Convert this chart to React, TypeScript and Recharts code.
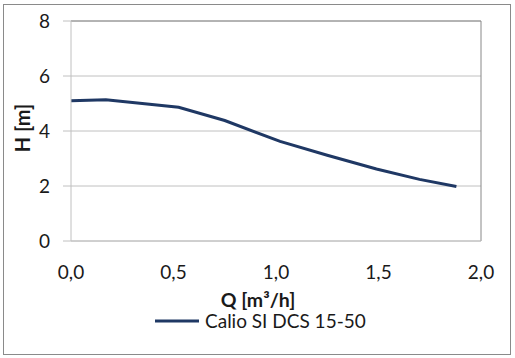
import React from 'react';
import { LineChart, Line, XAxis, YAxis, CartesianGrid, ReferenceLine, Legend, Label } from 'recharts';

const flowQ = [0, 0.17, 0.525, 0.75, 1.02, 1.25, 1.49, 1.7, 1.88];
const headH = [5.1, 5.14, 4.86, 4.38, 3.62, 3.12, 2.62, 2.24, 1.98];
const xTicks = [0, 0.5, 1, 1.5, 2];
const yTicks = [0, 2, 4, 6, 8];
const seriesName = 'Calio SI DCS 15-50';
const xTitle = 'Q [m³/h]';
const yTitle = 'H [m]';

const data = flowQ.map((q, i) => ({ q, h: headH[i] }));

const FONT = 'Lato, "Open Sans", sans-serif';
const TEXT = '#1a1a1a';
const LINE = '#1f3864';
const GRID = '#c0c0c0';
const FRAME = '#888888';

const fmt = (v: number) => v.toFixed(1).replace('.', ',');

const LegendContent = () => (
  <div style={{ display: 'flex', alignItems: 'center', fontFamily: FONT, fontSize: 19, lineHeight: 1, color: TEXT, whiteSpace: 'nowrap', height: 24 }}>
    <svg width={46} height={10} style={{ marginRight: 4 }}>
      <line x1={0} y1={5} x2={44} y2={5} stroke={LINE} strokeWidth={3} />
    </svg>
    <span style={{ lineHeight: 1 }}>{seriesName}</span>
  </div>
);

export default function App() {
  return (
    <div style={{ position: 'absolute', left: 0, top: 0, width: 515, height: 358, background: '#fff' }}>
      <LineChart
        width={515}
        height={358}
        data={data}
        margin={{ top: 21, right: 34, bottom: 77, left: 21 }}
        style={{ fontFamily: FONT }}
      >
        <CartesianGrid vertical={false} stroke={GRID} strokeWidth={1} />
        <XAxis
          dataKey="q"
          type="number"
          domain={[0, 2]}
          ticks={xTicks}
          tickFormatter={fmt}
          height={40}
          axisLine={{ stroke: GRID }}
          tickLine={false}
          tickSize={0}
          tickMargin={25}
          tick={{ fill: TEXT, fontSize: 19, fontFamily: FONT }}
          interval={0}
        >
          <Label
            content={() => (
              <text x={258} y={299} textAnchor="middle" dominantBaseline="central" fill={TEXT} fontSize={19.5} fontWeight="bold" fontFamily={FONT}>
                {xTitle}
              </text>
            )}
          />
        </XAxis>
        <YAxis
          dataKey="h"
          type="number"
          domain={[0, 8]}
          ticks={yTicks}
          width={50}
          axisLine={{ stroke: GRID }}
          tickLine={{ stroke: GRID }}
          tickSize={8}
          tickMargin={13}
          tick={{ fill: TEXT, fontSize: 19, fontFamily: FONT }}
          interval={0}
        >
          <Label
            content={() => (
              <text x={22} y={128} transform="rotate(-90, 22, 128)" textAnchor="middle" dominantBaseline="central" fill={TEXT} fontSize={20} fontWeight="bold" fontFamily={FONT}>
                {yTitle}
              </text>
            )}
          />
        </YAxis>
        <ReferenceLine y={8} stroke={FRAME} strokeWidth={1} ifOverflow="visible" />
        <ReferenceLine x={2} stroke={FRAME} strokeWidth={1} ifOverflow="visible" />
        <Line
          type="linear"
          dataKey="h"
          name={seriesName}
          stroke={LINE}
          strokeWidth={3}
          dot={false}
          isAnimationActive={false}
        />
        <Legend
          layout="vertical"
          align="center"
          verticalAlign="middle"
          content={<LegendContent />}
          wrapperStyle={{ top: 308.5, left: 155, width: 260, height: 24 }}
        />
      </LineChart>
      <div
        style={{
          position: 'absolute',
          left: 3,
          top: 4,
          width: 508,
          height: 351,
          boxSizing: 'border-box',
          border: '1px solid #8a8a8a',
          pointerEvents: 'none',
        }}
      />
    </div>
  );
}
